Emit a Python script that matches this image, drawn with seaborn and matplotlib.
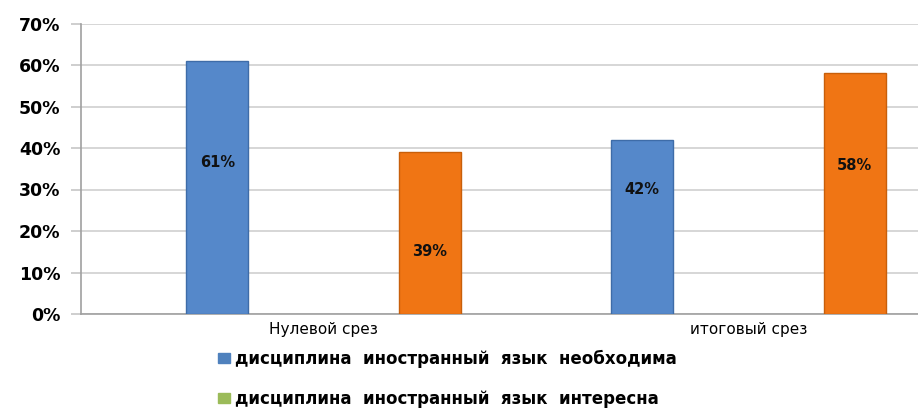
import matplotlib
matplotlib.use("Agg")
import matplotlib.pyplot as plt
import seaborn as sns
import pandas as pd
from matplotlib.patches import Patch
from matplotlib.ticker import FuncFormatter

categories = ["Нулевой срез", "итоговый срез"]
series_names = ["дисциплина  иностранный  язык  необходима",
                "дисциплина  иностранный  язык  интересна"]
necessary = [61, 42]
interesting = [39, 58]
label_heights = [[36.5, 30.0], [15.0, 35.7]]  # where the data labels sit
y_ticks = [0, 10, 20, 30, 40, 50, 60, 70]

bar_colors = ["#5588CA", "#F07514"]
edge_colors = ["#3E6CA8", "#C85F0A"]
legend_colors = ["#4F81BD", "#9BBB59"]

df = pd.DataFrame({
    "cat": categories * 2,
    "series": [series_names[0]] * 2 + [series_names[1]] * 2,
    "value": necessary + interesting,
})

sns.set_theme(style="white")
plt.rcParams["font.family"] = ["DejaVu Sans"]

fig = plt.figure(figsize=(9.18, 4.12), dpi=100)
ax = fig.add_axes([81 / 918, 98 / 412, 1 - 81 / 918, (314 - 23.5) / 412])

sns.barplot(data=df, x="cat", y="value", hue="series", order=categories,
            hue_order=series_names, palette=bar_colors, width=1.0, gap=0.708,
            ax=ax, legend=False, saturation=1)

for i, cont in enumerate(ax.containers):
    for bar in cont:
        bar.set_edgecolor(edge_colors[i])
        bar.set_linewidth(1.0)
        bar.set_zorder(3)
    for j, bar in enumerate(cont):
        xc = bar.get_x() + bar.get_width() / 2
        ax.text(xc, label_heights[i][j], f"{int(round(bar.get_height()))}%",
                ha="center", va="center", fontsize=10.5, color="#111111",
                fontweight="semibold", zorder=5)

ax.set_xlim(-0.5706, 1.3988)
ax.set_ylim(0, 70)
ax.set_yticks(y_ticks)
ax.yaxis.set_major_formatter(FuncFormatter(lambda v, p: f"{int(v)}%"))
ax.grid(axis="y", color="#D0D0D0", linewidth=1.2, zorder=0)
ax.set_axisbelow(True)
for s in ["top", "right"]:
    ax.spines[s].set_visible(False)
ax.spines["left"].set_color("#A0A0A0")
ax.spines["bottom"].set_color("#A0A0A0")
ax.spines["left"].set_linewidth(1.2)
ax.spines["bottom"].set_linewidth(1.2)
ax.tick_params(axis="y", length=7, color="#C8C8C8", labelsize=12.5, pad=8,
               left=True, labelcolor="#000000")
ax.tick_params(axis="x", length=0, labelsize=11, pad=6, labelcolor="#000000")
for t in ax.get_yticklabels():
    t.set_fontweight("heavy")
ax.set_xlabel("")
ax.set_ylabel("")

handles = [Patch(facecolor=legend_colors[k], edgecolor=legend_colors[k])
           for k in range(2)]
fig.legend(handles, series_names, loc="upper left",
           bbox_to_anchor=(218 / 918, 1 - 350 / 412), frameon=False,
           prop={"weight": "bold", "size": 12}, handlelength=0.7,
           handleheight=0.55, handletextpad=0.3, labelspacing=1.3,
           borderaxespad=0, borderpad=0, labelcolor="#000000")

fig.savefig("out.png", dpi=100)
